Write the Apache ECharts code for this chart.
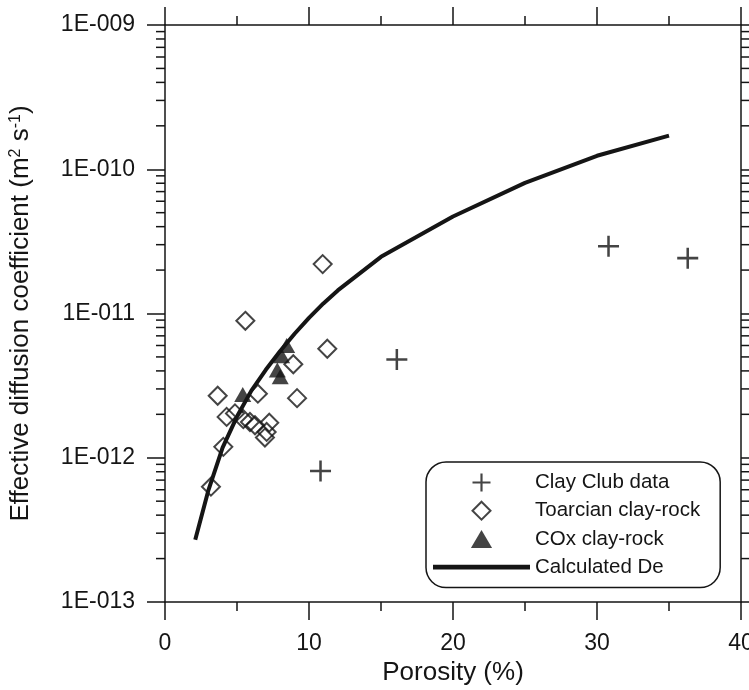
<!DOCTYPE html>
<html>
<head>
<meta charset="utf-8">
<script src="https://cdn.jsdelivr.net/npm/echarts@6/dist/echarts.min.js"></script>
<style>
  html, body { margin: 0; padding: 0; background: #fff; }
  #chart { width: 749px; height: 690px; }
</style>
</head>
<body>
<div id="chart"></div>
<script>
// ---- Data ----
const clayClubPhi = [30.8, 36.3, 16.1, 10.8];
const clayClubDe  = [2.93e-11, 2.42e-11, 4.8e-12, 8.1e-13];

const toarcianPhi = [10.95, 5.58, 11.27, 8.91, 6.45, 3.66, 9.17, 4.28, 4.86, 5.44, 5.9, 6.25, 7.24, 7.06, 6.94, 4.05, 3.19];
const toarcianDe  = [2.2e-11, 8.9e-12, 5.7e-12, 4.45e-12, 2.78e-12, 2.69e-12, 2.59e-12, 1.92e-12, 2.03e-12, 1.85e-12, 1.77e-12, 1.68e-12, 1.75e-12, 1.51e-12, 1.38e-12, 1.19e-12, 6.3e-13];

const coxPhi = [8.45, 8.1, 7.8, 8.0, 5.4];
const coxDe  = [6.0e-12, 5.1e-12, 4.05e-12, 3.65e-12, 2.75e-12];

const calcPhi = [2.1, 3, 4, 5, 6, 7, 8, 9, 10, 11, 12, 15, 20, 25, 30, 35];
const calcDe  = [2.7e-13, 5.89e-13, 1.175e-12, 1.93e-12, 2.92e-12, 4.07e-12, 5.5e-12, 7.24e-12, 9.33e-12, 1.175e-11, 1.445e-11, 2.47e-11, 4.7e-11, 8.05e-11, 1.24e-10, 1.71e-10];

const seriesNames = ['Clay Club data', 'Toarcian clay-rock', 'COx clay-rock', 'Calculated De'];

const xMin = 0, xMax = 40, xStep = 10;
const yMinExp = -13, yMaxExp = -9;

// log-axis minor tick values (2..9 x 10^n)
const minorTickValues = [];
for (let e = yMinExp; e < yMaxExp; e++) {
  for (let k = 2; k <= 9; k++) minorTickValues.push(k * Math.pow(10, e));
}

const zip = (a, b) => a.map((v, i) => [v, b[i]]);

const INK = '#151515';
const FONT = '"Liberation Sans", Arial, Helvetica, sans-serif';
const PLUS = 'path://M8.8,0h2.4v8.8h8.8v2.4h-8.8v8.8h-2.4v-8.8h-8.8v-2.4h8.8z';
const DIAMOND = 'path://M10,0L20,10L10,20L0,10Z';
const TRIANGLE = 'path://M10,0L20,17L0,17Z';
const LINEICON = 'path://M0,0h92v4.5h-92z';

function fmtLog(v) {
  const e = Math.round(Math.log10(v));
  const s = String(Math.abs(e)).padStart(3, '0');
  return '1E' + (e < 0 ? '-' : '+') + s;
}

const axisLineStyle = { color: INK, width: 1.5 };

const chart = echarts.init(document.getElementById('chart'), null, { renderer: 'canvas' });

chart.setOption({
  animation: false,
  backgroundColor: '#fff',
  textStyle: { fontFamily: FONT, color: INK },
  grid: { left: 165, right: 8, top: 25, bottom: 88, containLabel: false, outerBoundsMode: 'none' },
  legend: {
    data: [
      { name: seriesNames[0], icon: PLUS },
      { name: seriesNames[1], icon: DIAMOND },
      { name: seriesNames[2], icon: TRIANGLE },
      { name: seriesNames[3], icon: LINEICON }
    ],
    orient: 'vertical',
    left: 426,
    top: 462,
    padding: [10, 20, 10, 7],
    itemWidth: 97,
    itemHeight: 18,
    itemGap: 7.2,
    symbolKeepAspect: true,
    backgroundColor: '#fff',
    borderColor: INK,
    borderWidth: 1.5,
    borderRadius: 20,
    selectedMode: false,
    textStyle: { fontSize: 20.5, lineHeight: 20, color: INK, fontFamily: FONT }
  },
  xAxis: [
    {
      type: 'value', position: 'bottom', min: xMin, max: xMax, interval: xStep,
      name: 'Porosity (%)', nameLocation: 'middle', nameGap: 57,
      nameTextStyle: { fontSize: 26, color: INK, fontFamily: FONT },
      axisLine: { show: true, onZero: false, lineStyle: axisLineStyle },
      axisTick: { show: true, inside: false, length: 18, lineStyle: axisLineStyle },
      minorTick: { show: true, splitNumber: 2, length: 9, lineStyle: axisLineStyle },
      axisLabel: { fontSize: 23, margin: 30, color: INK, fontFamily: FONT },
      splitLine: { show: false }
    },
    {
      type: 'value', position: 'top', min: xMin, max: xMax, interval: xStep,
      axisLine: { show: true, onZero: false, lineStyle: axisLineStyle },
      axisTick: { show: true, inside: false, length: 18, lineStyle: axisLineStyle },
      minorTick: { show: true, splitNumber: 2, length: 9, lineStyle: axisLineStyle },
      axisLabel: { show: false },
      splitLine: { show: false }
    }
  ],
  yAxis: [
    {
      type: 'log', logBase: 10, position: 'left',
      min: Math.pow(10, yMinExp), max: Math.pow(10, yMaxExp),
      name: 'Effective diffusion coefficient (m{sup|2} s{sup|-1})',
      nameLocation: 'middle', nameGap: 131,
      nameTextStyle: {
        fontSize: 26, color: INK, fontFamily: FONT,
        rich: { sup: { fontSize: 16, verticalAlign: 'top', padding: [0, 0, 10, 0], color: INK, fontFamily: FONT } }
      },
      axisLine: { show: true, onZero: false, lineStyle: axisLineStyle },
      axisTick: { show: true, inside: false, length: 18, lineStyle: axisLineStyle },
      axisLabel: { fontSize: 23, margin: 30, color: INK, fontFamily: FONT, formatter: fmtLog },
      splitLine: { show: false }
    },
    {
      type: 'log', logBase: 10, position: 'right',
      min: Math.pow(10, yMinExp), max: Math.pow(10, yMaxExp),
      axisLine: { show: true, onZero: false, lineStyle: axisLineStyle },
      axisTick: { show: true, inside: false, length: 18, lineStyle: axisLineStyle },
      axisLabel: { show: false },
      splitLine: { show: false }
    }
  ],
  series: [
    {
      name: seriesNames[0], type: 'scatter', symbol: PLUS, symbolSize: 21,
      itemStyle: { color: INK },
      data: zip(clayClubPhi, clayClubDe), z: 3
    },
    {
      name: seriesNames[1], type: 'scatter', symbol: DIAMOND, symbolSize: 18,
      itemStyle: { color: 'rgba(255,255,255,0)', borderColor: INK, borderWidth: 2 },
      data: zip(toarcianPhi, toarcianDe), z: 2
    },
    {
      name: seriesNames[2], type: 'scatter', symbol: TRIANGLE, symbolSize: [17, 15],
      itemStyle: { color: INK },
      data: zip(coxPhi, coxDe), z: 3
    },
    {
      name: seriesNames[3], type: 'line', symbol: 'none', showSymbol: false,
      lineStyle: { color: INK, width: 4 },
      itemStyle: { color: INK },
      data: zip(calcPhi, calcDe), z: 4
    },
    {
      name: 'minorTicks', type: 'custom', silent: true, clip: false,
      coordinateSystem: 'cartesian2d', xAxisIndex: 0, yAxisIndex: 0,
      data: minorTickValues.map(v => [xMin, v]),
      renderItem: function (params, api) {
        const v = api.value(1);
        const pL = api.coord([xMin, v]);
        const pR = api.coord([xMax, v]);
        const st = { stroke: INK, lineWidth: 1.5 };
        return {
          type: 'group',
          children: [
            { type: 'line', shape: { x1: pL[0] - 9, y1: pL[1], x2: pL[0], y2: pL[1] }, style: st },
            { type: 'line', shape: { x1: pR[0], y1: pR[1], x2: pR[0] + 9, y2: pR[1] }, style: st }
          ]
        };
      }
    }
  ]
});
</script>
</body>
</html>
